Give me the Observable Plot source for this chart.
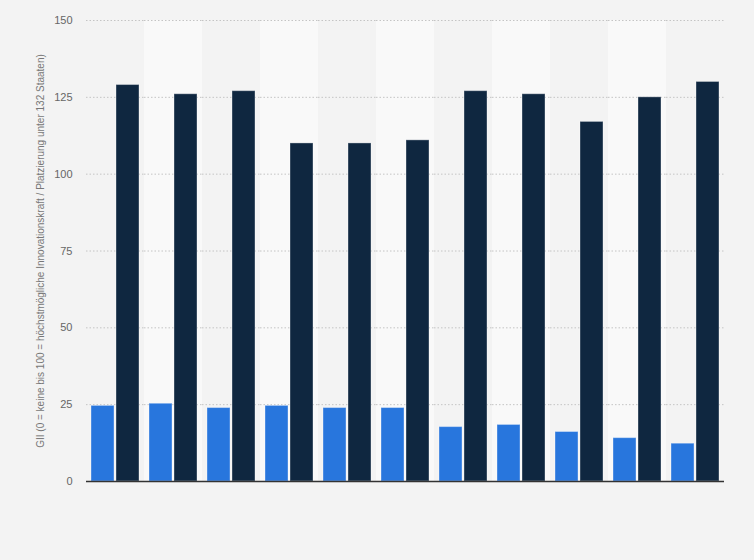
<!DOCTYPE html>
<html><head><meta charset="utf-8">
<script src="https://cdn.jsdelivr.net/npm/d3@7"></script>
<script src="https://cdn.jsdelivr.net/npm/@observablehq/plot@0.6"></script>
<style>html,body{margin:0;padding:0;background:#f3f3f3;} #chart svg{display:block}</style>
</head><body><div id="chart"></div>
<script>
const groups = ["2013","2014","2015","2016","2017","2018","2019","2020","2021","2022","2023"];
const seriesNames = ["GII-Wert", "Platzierung"];
const giiScore = [24.6, 25.3, 23.9, 24.6, 23.9, 23.9, 17.7, 18.4, 16.1, 14.1, 12.3];
const giiRank = [129, 126, 127, 110, 110, 111, 127, 126, 117, 125, 130];
const yTicks = [0, 25, 50, 75, 100, 125, 150];
const colors = ["#2876dd", "#0f2740"];
const yLabel = "GII (0 = keine bis 100 = höchstmögliche Innovationskraft / Platzierung unter 132 Staaten)";

const data = groups.flatMap((g, i) => [
  {group: g, series: seriesNames[0], value: giiScore[i]},
  {group: g, series: seriesNames[1], value: giiRank[i]}
]);
const bands = groups.filter((g, i) => i % 2 === 1);

const chart = Plot.plot({
  width: 754, height: 560,
  marginTop: 20, marginBottom: 79, marginLeft: 85, marginRight: 29,
  style: {background: "transparent", fontFamily: "Liberation Sans, Arial, sans-serif", fontSize: "11px", color: "#666"},
  fx: {domain: groups, padding: 0, axis: null},
  x: {domain: seriesNames, paddingInner: 0.08, paddingOuter: 0.2, axis: null},
  y: {domain: [0, 150], axis: null},
  color: {domain: seriesNames, range: colors},
  marks: [
    Plot.rect(bands, {fx: d => d, y1: 0, y2: 150, fill: "#f9f9f9"}),
    Plot.gridY(yTicks, {stroke: "#c4c4c4", strokeOpacity: 1, strokeDasharray: "1.5,2"}),
    Plot.barY(data, {fx: "group", x: "series", y: "value", fill: "series", stroke: "#ffffff", strokeOpacity: 0.35}),
    Plot.ruleY([0], {stroke: "#333", strokeWidth: 1.5}),
    Plot.axisY(yTicks, {tickSize: 0, tickPadding: 14, fill: "#666", fontSize: 11, label: null}),
    Plot.axisY({ticks: [], tickSize: 0, fill: "#777", fontSize: 10, label: yLabel, labelAnchor: "center", labelArrow: "none", labelOffset: 50})
  ]
});
document.getElementById("chart").appendChild(chart);
</script>
</body></html>
